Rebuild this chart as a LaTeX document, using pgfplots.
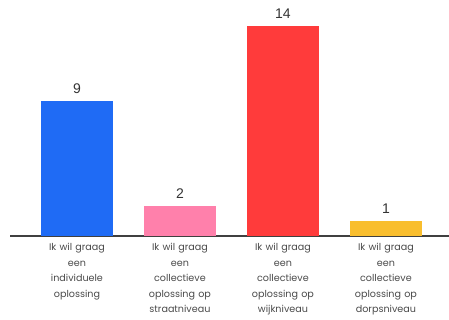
\documentclass[border=0pt]{standalone}
\usepackage{pgfplots}
\pgfplotsset{compat=1.18}
\usepackage{fontspec}
\setmainfont{Liberation Sans}
\newfontfamily\labfont{Poppins}
\definecolor{cblue}{HTML}{1F6BF5}
\definecolor{cpink}{HTML}{FF80AB}
\definecolor{cred}{HTML}{FF3B3B}
\definecolor{cyellow}{HTML}{F9BE2E}
\definecolor{labgray}{HTML}{4A4A4A}
\definecolor{valgray}{HTML}{333333}
\begin{document}
\begin{tikzpicture}
\begin{axis}[
  anchor=south west, at={(10pt,84pt)},
  x=103pt, y=15pt,
  xmin=-0.65, xmax=3.61, ymin=0, ymax=15.7,
  axis x line=bottom, axis y line=none,
  x axis line style={-, line width=1.2pt, color=black!75},
  xtick={0,1,2,3}, major tick length=0pt,
  xticklabels={{Ik wil graag\\een\\individuele\\oplossing},
               {Ik wil graag\\een\\collectieve\\oplossing op\\straatniveau},
               {Ik wil graag\\een\\collectieve\\oplossing op\\wijkniveau},
               {Ik wil graag\\een\\collectieve\\oplossing op\\dorpsniveau}},
  xticklabel style={align=center, text width=90pt, font=\labfont\fontsize{9.6}{15.5}\selectfont, text=labgray, yshift=-4pt},
  ybar, bar width=72pt, bar shift=0pt,
  nodes near coords,
  /pgf/number format/assume math mode=true,
  every node near coord/.append style={font=\fontsize{14}{16}\selectfont, text=valgray, yshift=4pt},
  clip=false,
]
\addplot[fill=cblue, draw=none] coordinates {(0,9)};
\addplot[fill=cpink, draw=none] coordinates {(1,2)};
\addplot[fill=cred, draw=none] coordinates {(2,14)};
\addplot[fill=cyellow, draw=none] coordinates {(3,1)};
\end{axis}
\pgfresetboundingbox
\useasboundingbox (0,0) rectangle (449pt,320pt);
\end{tikzpicture}
\end{document}
